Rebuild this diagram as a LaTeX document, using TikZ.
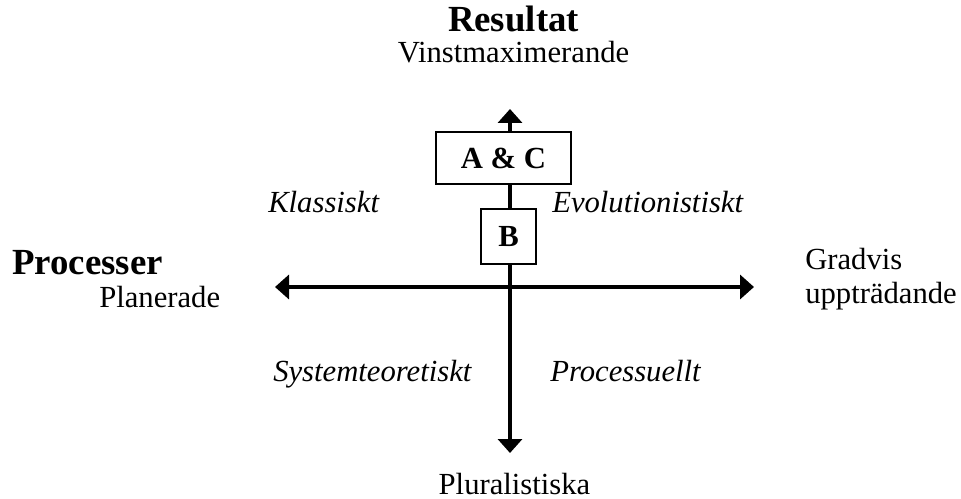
\documentclass[tikz,border=0pt]{standalone}
\usepackage{fontspec}
\setmainfont{Liberation Serif}
\usetikzlibrary{arrows.meta}

\begin{document}
\begin{tikzpicture}[x=0.75pt,y=-0.75pt,
lbl/.style={font=\fontsize{23}{27}\selectfont,inner sep=0pt},
head/.style={font=\fontsize{27.6}{32}\selectfont\bfseries,inner sep=0pt},
quad/.style={font=\fontsize{23}{27}\selectfont\itshape,inner sep=0pt,anchor=base west},
box/.style={draw,line width=1.1pt,fill=white,inner sep=0pt,
  font=\fontsize{23}{27}\selectfont\bfseries},
axis/.style={{Triangle[length=10.5pt,width=18pt]}-{Triangle[length=10.5pt,width=18pt]},
  line width=2.8pt}]
\useasboundingbox (0,0) rectangle (961,499);
\coordinate (north) at (510,109);
\coordinate (south) at (510,453);
\coordinate (west) at (275,287);
\coordinate (east) at (754,287);
\draw[axis] (west)--(east);
\draw[axis] (south)--(north);
\node[box,minimum width=101.25pt,minimum height=39pt] (ac) at (503.5,158) {A \& C};
\node[box,minimum width=41.25pt,minimum height=41.25pt] (b) at (508.5,236.5) {B};
% axis ends
\node[head,anchor=base] (res) at (513.5,32) {Resultat};
\node[lbl,anchor=base] (vinst) at (513.5,63) {Vinstmaximerande};
\node[head,anchor=base west] (proc) at (12,275) {Processer};
\node[lbl,anchor=base west] (plan) at (99,307) {Planerade};
\node[lbl,anchor=base west] (grad) at (805,270) {Gradvis};
\node[lbl,anchor=base west] (uppt) at (805,303) {uppträdande};
\node[lbl,anchor=base] (plur) at (514.5,494) {Pluralistiska};
% quadrants
\node[quad] (klass) at (268,213) {Klassiskt};
\node[quad] (evol) at (552,213) {Evolutionistiskt};
\node[quad] (syst) at (273,381) {Systemteoretiskt};
\node[quad] (procu) at (550,381) {Processuellt};
\end{tikzpicture}
\end{document}
